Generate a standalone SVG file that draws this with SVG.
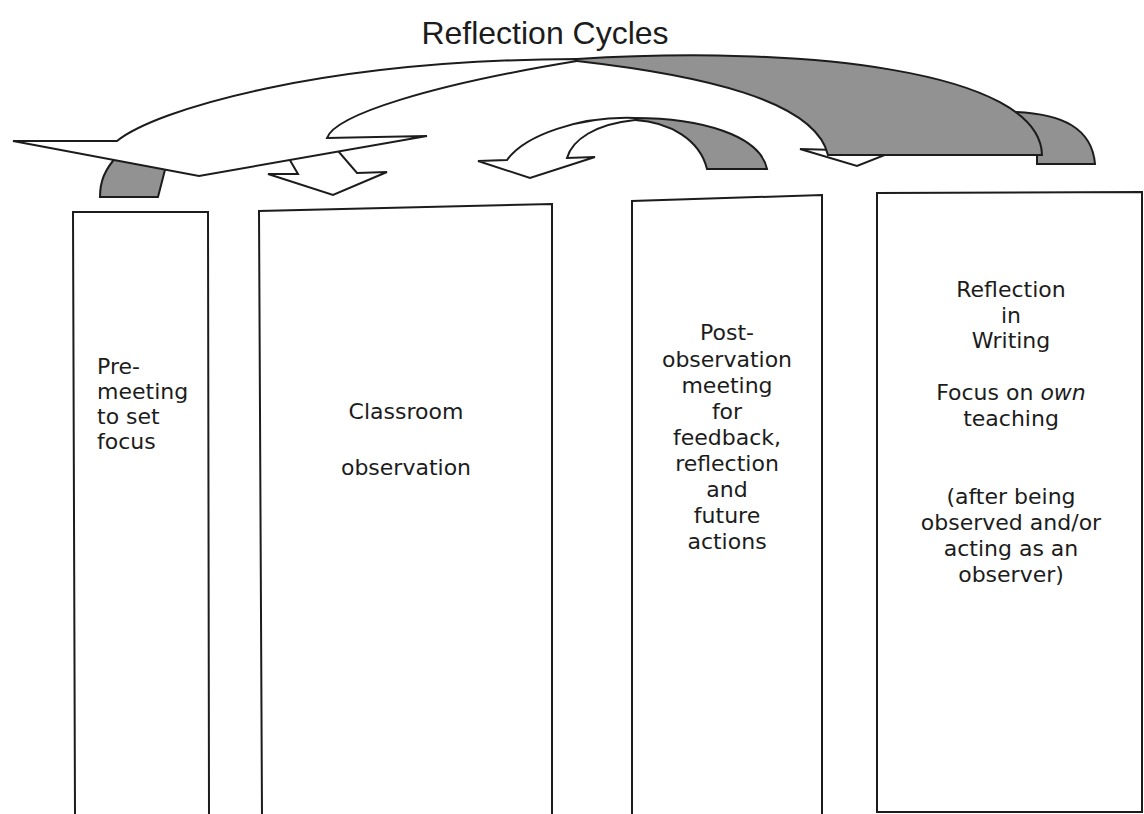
<svg xmlns="http://www.w3.org/2000/svg" width="1144" height="814" viewBox="0 0 1144 814">
<style>
.ln{fill:none;stroke:#1c1c1c;stroke-width:2;stroke-linejoin:miter}
.wh{fill:#ffffff;stroke:#1c1c1c;stroke-width:2;stroke-linejoin:miter}
.gr{fill:#929292;stroke:#1c1c1c;stroke-width:2;stroke-linejoin:miter}
.t{font-family:"DejaVu Sans",sans-serif;font-size:22px;fill:#1c1c1c}
.c{text-anchor:middle}
.title{font-family:"Liberation Sans",Arial,sans-serif;font-size:32px;fill:#1c1c1c;text-anchor:middle}
</style>
<rect width="1144" height="814" fill="#ffffff"/>
<text class="title" x="545" y="44">Reflection Cycles</text>

<g id="connectors">
  <g id="arrow-c">
    <path class="gr" d="M100,197 C100,182 104,170 118,155 L168,150 L168,158 L158,197 Z"/>
    <path class="wh" d="M800,149 L857,166 L895,151 L880,140 L845,135 L835,150 Z"/>
  </g>
  <g id="arrow-b">
    <path class="gr" d="M1095,164 C1092,128 1062,114 1016,112 L950,108 L880,150 L1037,155 L1037,164 Z"/>
    <path class="wh" d="M284,150 L298,174 L268,174 L333,195 L387,172 L357,173 L333,145 Z"/>
  </g>
  <g id="arrow-a">
    <path class="gr" d="M577,59 C800,45 1040,70 1042,155 L828,155 C815,100 700,75 577,61 Z"/>
    <path class="wh" d="M117,141 L13,141 L199,176 L427,136 L327,138 C335,115 430,85 577,61 L577,59 C320,60 155,110 117,141 Z"/>
  </g>
  <g id="arrow-d">
    <path class="gr" d="M635,118 C700,118 760,135 767,169 L707,169 C700,140 670,122 635,120 Z"/>
    <path class="wh" d="M635,118 C580,116 525,135 507,160 L478,161 L530,178 L595,157 L567,158 C572,140 595,124 635,120 Z"/>
  </g>
</g>

<g id="node-premeeting">
  <path class="ln" d="M75,816 L73,212 L208,212 L209,816"/>
  <text class="t" x="97" y="374">Pre-</text>
  <text class="t" x="97" y="399">meeting</text>
  <text class="t" x="97" y="424">to set</text>
  <text class="t" x="97" y="449">focus</text>
</g>

<g id="node-classroom">
  <path class="ln" d="M262,816 L259,211 L552,204 L552,816"/>
  <text class="t c" x="406" y="419">Classroom</text>
  <text class="t c" x="406" y="475">observation</text>
</g>

<g id="node-post">
  <path class="ln" d="M632,816 L632,201 L822,195 L822,816"/>
  <text class="t c" x="727" y="340">Post-</text>
  <text class="t c" x="727" y="367">observation</text>
  <text class="t c" x="727" y="393">meeting</text>
  <text class="t c" x="727" y="419">for</text>
  <text class="t c" x="727" y="445">feedback,</text>
  <text class="t c" x="727" y="471">reflection</text>
  <text class="t c" x="727" y="497">and</text>
  <text class="t c" x="727" y="523">future</text>
  <text class="t c" x="727" y="549">actions</text>
</g>

<g id="node-reflection">
  <path class="ln" d="M877,193 L1142,192 L1142,812 L877,812 Z"/>
  <text class="t c" x="1011" y="297">Reflection</text>
  <text class="t c" x="1011" y="323">in</text>
  <text class="t c" x="1011" y="348">Writing</text>
  <text class="t c" x="1011" y="400">Focus on <tspan font-style="italic">own</tspan></text>
  <text class="t c" x="1011" y="426">teaching</text>
  <text class="t c" x="1011" y="504">(after being</text>
  <text class="t c" x="1011" y="530">observed and/or</text>
  <text class="t c" x="1011" y="556">acting as an</text>
  <text class="t c" x="1011" y="582">observer)</text>
</g>
</svg>
